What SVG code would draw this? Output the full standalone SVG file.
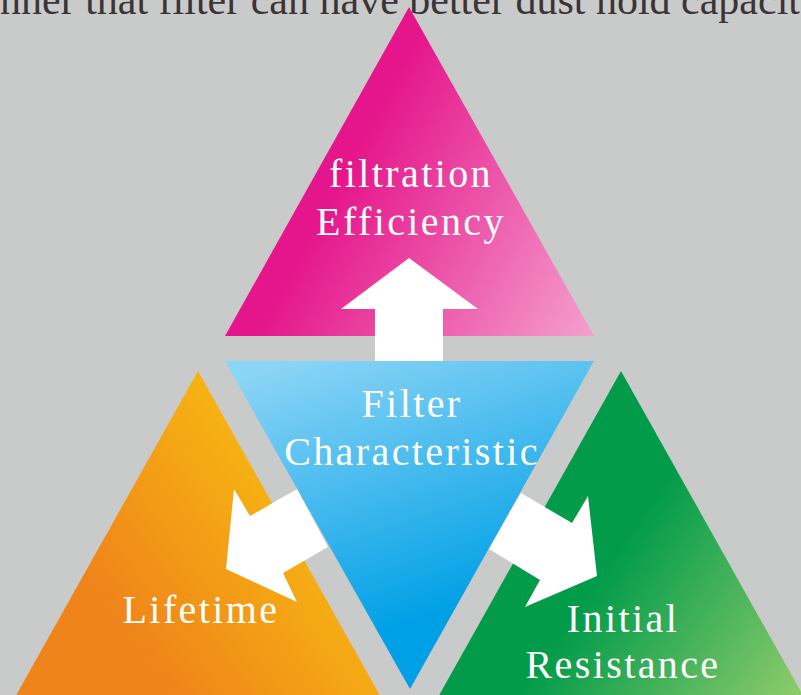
<svg xmlns="http://www.w3.org/2000/svg" width="801" height="695" viewBox="0 0 801 695">
  <defs>
    <linearGradient id="gPink" gradientUnits="userSpaceOnUse" x1="330" y1="200" x2="600" y2="345">
      <stop offset="0" stop-color="#E5168B"/>
      <stop offset="1" stop-color="#F5A5D0"/>
    </linearGradient>
    <linearGradient id="gBlue" gradientUnits="userSpaceOnUse" x1="330" y1="350" x2="420" y2="620">
      <stop offset="0" stop-color="#8AD4F6"/>
      <stop offset="1" stop-color="#00A0E6"/>
    </linearGradient>
    <linearGradient id="gOrange" gradientUnits="userSpaceOnUse" x1="150" y1="660" x2="330" y2="530">
      <stop offset="0" stop-color="#EF851A"/>
      <stop offset="1" stop-color="#F7B612"/>
    </linearGradient>
    <linearGradient id="gGreen" gradientUnits="userSpaceOnUse" x1="610" y1="560" x2="800" y2="690">
      <stop offset="0" stop-color="#019B4A"/>
      <stop offset="1" stop-color="#8CCB6B"/>
    </linearGradient>
  </defs>
  <style>
    .lbl { font-family: "Liberation Serif", "Times New Roman", serif; font-size: 40px; fill: #FFFFFF; letter-spacing: 2.4px; text-anchor: middle; }
    .top { font-family: "Liberation Serif", "Times New Roman", serif; font-size: 42px; fill: #3B3436; }
    .arrow { fill: #FFFFFF; }
  </style>
  <rect x="0" y="0" width="801" height="695" fill="#C9CBCA"/>
  <text class="top" x="0" y="14">nner that filter can have better dust hold capacit</text>

  <g id="node-efficiency">
    <polygon points="409,7 225,336 594,336" fill="url(#gPink)"/>
    <text class="lbl" x="411" y="187">filtration</text>
    <text class="lbl" x="411" y="235">Efficiency</text>
  </g>
  <g id="node-lifetime">
    <polygon points="198,371 14,699 382,699" fill="url(#gOrange)"/>
    <text class="lbl" x="201" y="623">Lifetime</text>
  </g>
  <g id="node-resistance">
    <polygon points="621,371 437,699 805,699" fill="url(#gGreen)"/>
    <text class="lbl" x="623" y="632">Initial</text>
    <text class="lbl" x="623" y="678">Resistance</text>
  </g>
  <g id="node-filter">
    <polygon points="225,361 594,361 410,689" fill="url(#gBlue)"/>
    <text class="lbl" x="412" y="417">Filter</text>
    <text class="lbl" x="412" y="465">Characteristic</text>
  </g>

  <g id="connectors">
    <polygon class="arrow" points="375,361 375,309 341,309 409,258 478,309 443,309 443,361"/>
    <polygon class="arrow" points="297,489 328,547 283,573 297,602 226,569 234,489 250,516"/>
    <polygon class="arrow" points="521,493 572,523 588,496 597,576 525,607 540,580 489,549"/>
  </g>
</svg>
